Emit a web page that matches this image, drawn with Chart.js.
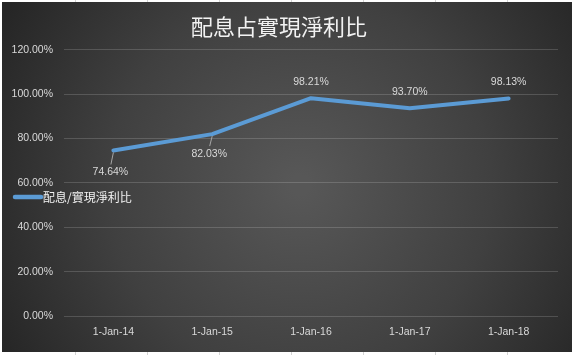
<!DOCTYPE html>
<html>
<head>
<meta charset="utf-8">
<script src="https://cdn.jsdelivr.net/npm/chart.js@4.4.0/dist/chart.umd.min.js"></script>
<style>
html,body{margin:0;padding:0;background:#fff;}
#wrap{width:574px;height:355px;position:relative;}
</style>
</head>
<body>
<div id="wrap"><canvas id="c" width="574" height="355"></canvas></div>
<script>
const chartTitle = '配息占實現淨利比';
const seriesName = '配息/實現淨利比';
const categories = ['1-Jan-14', '1-Jan-15', '1-Jan-16', '1-Jan-17', '1-Jan-18'];
const ratioValues = [74.64, 82.03, 98.21, 93.70, 98.13];
const yTicks = [0, 20, 40, 60, 80, 100, 120];

const NUM_FONT = '"Liberation Sans", Arial, sans-serif';
const CJK_FONT = '"Noto Sans CJK TC", "Noto Sans CJK SC", sans-serif';
const TEXT_COLOR = '#d9d9d9';
const LINE_COLOR = '#5b9bd5';

const bgPlugin = {
  id: 'bg',
  beforeDraw(chart) {
    const ctx = chart.ctx;
    ctx.save();
    ctx.fillStyle = '#ffffff';
    ctx.fillRect(0, 0, chart.width, chart.height);
    // spreadsheet cell lines behind the chart
    ctx.strokeStyle = '#d4d4d4';
    ctx.lineWidth = 1;
    [75, 147, 219, 291, 363, 435, 507].forEach(x => {
      ctx.beginPath(); ctx.moveTo(x + 0.5, 0); ctx.lineTo(x + 0.5, chart.height); ctx.stroke();
    });
    const g = ctx.createRadialGradient(300, 185, 10, 300, 185, 340);
    g.addColorStop(0, '#575757');
    g.addColorStop(0.55, '#404040');
    g.addColorStop(1, '#262626');
    ctx.fillStyle = g;
    ctx.fillRect(2, 2, 570, 350);
    ctx.restore();
  }
};

const labelPlugin = {
  id: 'pointLabels',
  afterDatasetsDraw(chart) {
    const ctx = chart.ctx;
    const meta = chart.getDatasetMeta(0);
    const ds = chart.data.datasets[0];
    ctx.save();
    ctx.font = '10.5px ' + NUM_FONT;
    ctx.fillStyle = TEXT_COLOR;
    ctx.textAlign = 'center';
    ctx.textBaseline = 'middle';
    meta.data.forEach((pt, i) => {
      const txt = ds.data[i].toFixed(2) + '%';
      const prev = i > 0 ? ds.data[i - 1] : null;
      const next = i < ds.data.length - 1 ? ds.data[i + 1] : null;
      // points on a rising segment to the right get their label below
      const below = next !== null && next > ds.data[i] && (prev === null || prev < ds.data[i]);
      if (below) {
        const dy = i === 0 ? 22 : 20;
        ctx.strokeStyle = '#a6a6a6';
        ctx.lineWidth = 1;
        ctx.beginPath();
        ctx.moveTo(pt.x, pt.y + 2);
        ctx.lineTo(pt.x - 2.5, pt.y + dy - 8);
        ctx.stroke();
        ctx.fillText(txt, pt.x - 3, pt.y + dy);
      } else {
        ctx.fillText(txt, pt.x, pt.y - 16);
      }
    });
    ctx.restore();
  }
};

const legendPlugin = {
  id: 'sideLegend',
  afterDraw(chart) {
    const ctx = chart.ctx;
    const ds = chart.data.datasets[0];
    ctx.save();
    ctx.strokeStyle = ds.borderColor;
    ctx.lineWidth = 4.5;
    ctx.lineCap = 'round';
    ctx.beginPath();
    ctx.moveTo(15, 197);
    ctx.lineTo(41, 197);
    ctx.stroke();
    ctx.font = '12px ' + CJK_FONT;
    ctx.fillStyle = '#f2f2f2';
    ctx.textAlign = 'left';
    ctx.textBaseline = 'middle';
    ctx.fillText(ds.label, 43, 197);
    ctx.restore();
  }
};

new Chart(document.getElementById('c'), {
  type: 'line',
  data: {
    labels: categories,
    datasets: [{
      label: seriesName,
      data: ratioValues,
      borderColor: LINE_COLOR,
      backgroundColor: LINE_COLOR,
      borderWidth: 4,
      pointRadius: 0,
      pointHoverRadius: 0,
      tension: 0,
      fill: false,
      borderCapStyle: 'round',
      borderJoinStyle: 'round'
    }]
  },
  options: {
    responsive: false,
    animation: false,
    events: [],
    layout: { padding: { top: 0, left: 0, right: 16, bottom: 0 } },
    plugins: {
      legend: { display: false },
      tooltip: { enabled: false },
      title: {
        display: true,
        text: chartTitle,
        color: '#f2f2f2',
        font: { family: CJK_FONT, size: 22, weight: 'normal', lineHeight: 1.2 },
        padding: { top: 13, bottom: 10.5 }
      }
    },
    scales: {
      x: {
        offset: true,
        grid: { display: false, drawTicks: false },
        border: { display: false },
        ticks: { color: TEXT_COLOR, font: { family: NUM_FONT, size: 10.5 }, padding: 10, maxRotation: 0 },
        afterFit(s) { s.height = 39; }
      },
      y: {
        min: yTicks[0],
        max: yTicks[yTicks.length - 1],
        afterBuildTicks(s) { s.ticks = yTicks.map(v => ({ value: v })); },
        grid: { color: 'rgba(255,255,255,0.16)', lineWidth: 1, drawTicks: false },
        border: { display: false },
        ticks: {
          color: TEXT_COLOR,
          font: { family: NUM_FONT, size: 10.5 },
          padding: 11,
          callback: v => Number(v).toFixed(2) + '%'
        },
        afterFit(s) { s.width = 64; }
      }
    }
  },
  plugins: [bgPlugin, labelPlugin, legendPlugin]
});
</script>
</body>
</html>
